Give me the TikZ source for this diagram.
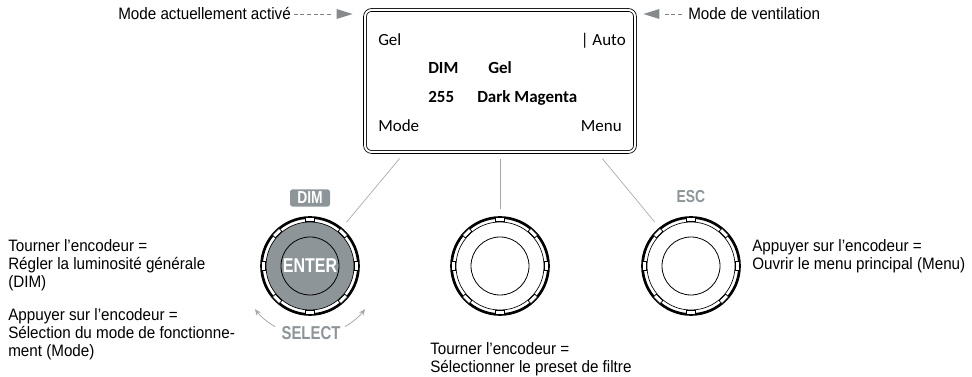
\documentclass[tikz,border=0pt]{standalone}
\usepackage{fontspec}
\setmainfont{Liberation Sans}[FakeStretch=0.92]
\newfontfamily\dispfont{Carlito}
\newfontfamily\capsfont{Liberation Sans}[FakeStretch=0.8]
\usetikzlibrary{arrows.meta, positioning, calc}
\definecolor{knobgray}{RGB}{141,149,152}
\definecolor{linegray}{RGB}{165,169,171}
\definecolor{tipgray}{RGB}{135,138,140}

\begin{document}
\begin{tikzpicture}[x=0.75pt, y=0.75pt, >=Stealth,
    label/.style={font=\fontsize{12.4}{13.5}\selectfont, inner sep=0pt, align=left},
    disptext/.style={font=\dispfont\fontsize{12.75}{14}\selectfont, inner sep=0pt},
    dispbold/.style={font=\dispfont\bfseries\fontsize{12.75}{14}\selectfont, inner sep=0pt},
    capsword/.style={font=\capsfont\bfseries\fontsize{13}{14}\selectfont, inner sep=0pt},
    dashline/.style={draw=gray, line width=0.6pt, dash pattern=on 3pt off 2pt},
    tiptri/.style={fill=tipgray, draw=none},
    lead/.style={draw=linegray, line width=0.5pt},
    selarc/.style={draw=linegray, line width=0.6pt, -{Stealth[length=5pt, width=4pt]}},
    knob/.style={circle, minimum size=75pt, inner sep=0pt}]
    \useasboundingbox (0,0) rectangle (972,377);
    % Display
    \node[draw, double, double distance=1.5pt, line width=0.6pt, rounded corners=5pt,
        minimum width=202.5pt, minimum height=106.5pt] (disp) at (500,296) {};
    \node[disptext, anchor=base west] (dGel) at (378,331) {Gel};
    \node[disptext, anchor=base east] (dAuto) at (626,331) {| Auto};
    \node[dispbold, anchor=base west] (dDim) at (428,303) {DIM};
    \node[dispbold, anchor=base west] (dPreset) at (488,303) {Gel};
    \node[dispbold, anchor=base west] (dVal) at (428,274) {255};
    \node[dispbold, anchor=base west] (dName) at (477,274) {Dark Magenta};
    \node[disptext, anchor=base west] (dMode) at (378,245) {Mode};
    \node[disptext, anchor=base east] (dMenu) at (622,245) {Menu};
    % Top labels with dashed pointers
    \node[label, anchor=west] (actif) at (118,363) {Mode actuellement activé};
    \coordinate (actifTip) at ([xshift=-9pt]actif -| disp.west);
    \draw[dashline, shorten <=2pt] (actif) -- ([xshift=-16]actifTip);
    \fill[tiptri] (actifTip) -- ++(-16,5) -- ++(0,-10) -- cycle;
    \node[label, anchor=west] (venti) at (688,363) {Mode de ventilation};
    \coordinate (ventiTip) at ([xshift=6pt]venti -| disp.east);
    \draw[dashline, shorten <=4.5pt] (venti) -- ([xshift=16]ventiTip);
    \fill[tiptri] (ventiTip) -- ++(16,5) -- ++(0,-10) -- cycle;
    % Encoders
    \node[knob] (kSel) at (310,111) {};
    \node[knob] (kPre) at (500,111) {};
    \node[knob] (kEsc) at (691,111) {};
    \fill[knobgray] (kSel.center) circle (44);
    \foreach \k in {kSel,kPre,kEsc}{
        \draw[line width=2pt] (\k.center) circle (48.5);
        \draw[line width=0.5pt] (\k.center) circle (44);
        \draw[line width=0.6pt] (\k.center) circle (29);
        \foreach \a in {0,45,...,315}
            \node[draw, fill=white, line width=0.5pt, minimum width=3pt, minimum height=7pt,
                inner sep=0pt, rotate=\a] at ($(\k.center)+(\a:46.5)$) {};
    }
    \node[capsword, font=\capsfont\bfseries\fontsize{15}{16}\selectfont, text=white] (enter) at (kSel) {ENTER};
    \node[capsword, fill=knobgray, text=white, rounded corners=2pt,
        minimum width=30pt, minimum height=13pt] (dimTag) at (310,179) {DIM};
    \node[capsword, text=knobgray] (escTag) at (691,180) {ESC};
    \node[capsword, font=\capsfont\bfseries\fontsize{14}{15}\selectfont, text=knobgray] (selTag) at (311,44) {SELECT};
    \draw[selarc] ([shift={(240:70)}]kSel.center) arc[start angle=240, end angle=218, radius=70];
    \draw[selarc] ([shift={(300:70)}]kSel.center) arc[start angle=300, end angle=322, radius=70];
    % Leader lines
    \draw[lead, shorten <=6pt, shorten >=5pt] ($(disp.south west)!0.148!(disp.south east)$) -- (kSel);
    \draw[lead, shorten <=5pt, shorten >=5pt] (disp.south) -- (kPre);
    \draw[lead, shorten <=6pt, shorten >=5pt] ($(disp.south west)!0.859!(disp.south east)$) -- (kEsc);
    % Descriptions
    \node[label, anchor=north west] (tourneSel) at (8,138)
        {Tourner l’encodeur =\\Régler la luminosité générale\\(DIM)};
    \node[label, anchor=north west] (appuiSel) at (8,69)
        {Appuyer sur l’encodeur =\\Sélection du mode de fonctionne-\\ment (Mode)};
    \node[label, anchor=north west] (tournePre) at (430,35)
        {Tourner l’encodeur =\\Sélectionner le preset de filtre};
    \node[label, anchor=north west] (appuiEsc) at (752,138)
        {Appuyer sur l’encodeur =\\Ouvrir le menu principal (Menu)};
\end{tikzpicture}
\end{document}
